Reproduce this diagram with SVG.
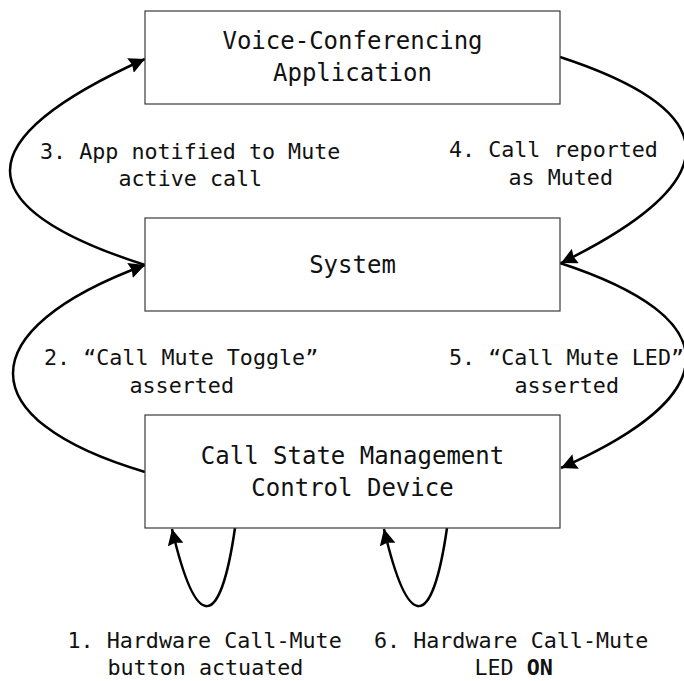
<svg xmlns="http://www.w3.org/2000/svg" width="684" height="681" viewBox="0 0 684 681">
<style>
.box{fill:#fff;stroke:#3a3a3a;stroke-width:1.2}
.bt{font-family:"DejaVu Sans Mono","Liberation Mono",monospace;font-size:24px;fill:#111;text-anchor:middle}
.lb{font-family:"DejaVu Sans Mono","Liberation Mono",monospace;font-size:21.7px;fill:#111}
.cn{fill:none;stroke:#000;stroke-width:2.5;marker-end:url(#ah)}
</style>
<defs>
<marker id="ah" markerUnits="userSpaceOnUse" markerWidth="17" markerHeight="16" refX="16" refY="8" orient="auto">
<path d="M0,0 L16,8 L0,16 L2,8 z" fill="#000"/>
</marker>
</defs>
<rect width="684" height="681" fill="#fff"/>
<g id="connectors">
<path class="cn" d="M145,265 C-35,207 -35,140 145,59"/>
<path class="cn" d="M145,472 C-31,420 -31,330 145,265"/>
<path class="cn" d="M560,57 C728,112 728,181 561,263"/>
<path class="cn" d="M560,263 C728,318 728,394 561,468"/>
<path class="cn" d="M235,528 C220,632 196,632 172,529"/>
<path class="cn" d="M447,528 C432,632 408,632 384,529"/>
</g>
<g id="app">
<rect class="box" x="145" y="11" width="415" height="93"/>
<text class="bt" x="352.5" y="49">Voice-Conferencing</text>
<text class="bt" x="352.5" y="81">Application</text>
</g>
<g id="system">
<rect class="box" x="145" y="218" width="415" height="93"/>
<text class="bt" x="352.5" y="273">System</text>
</g>
<g id="device">
<rect class="box" x="145" y="415" width="415" height="113"/>
<text class="bt" x="352.5" y="464">Call State Management</text>
<text class="bt" x="352.5" y="496">Control Device</text>
</g>
<g id="labels">
<text class="lb" x="40" y="159">3. App notified to Mute</text>
<text class="lb" x="118.5" y="186">active call</text>
<text class="lb" x="449" y="157">4. Call reported</text>
<text class="lb" x="508.5" y="185">as Muted</text>
<text class="lb" x="44" y="365">2. “Call Mute Toggle”</text>
<text class="lb" x="129.5" y="393">asserted</text>
<text class="lb" x="449" y="365">5. “Call Mute LED”</text>
<text class="lb" x="514.5" y="393">asserted</text>
<text class="lb" x="67.5" y="648">1. Hardware Call-Mute</text>
<text class="lb" x="107.5" y="675">button actuated</text>
<text class="lb" x="374" y="648">6. Hardware Call-Mute</text>
<text class="lb" x="474.5" y="675">LED <tspan font-weight="bold">ON</tspan></text>
</g>
</svg>
